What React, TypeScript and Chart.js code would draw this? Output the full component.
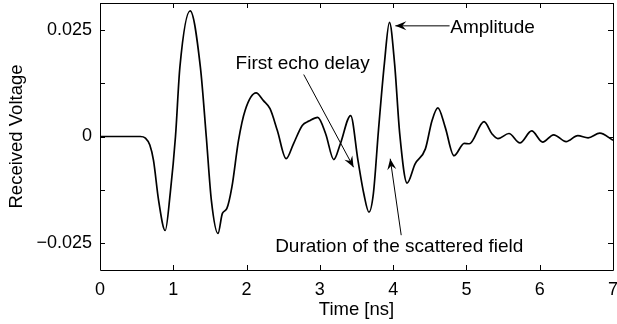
import React, { useEffect, useRef } from "react";
import { Chart, registerables } from "chart.js";

Chart.register(...registerables);

// ---- data ----
const timeNs = [
  0, 0.3, 0.55, 0.62, 0.68, 0.73, 0.8, 0.89, 0.96, 1.03, 1.09, 1.23, 1.37, 1.45,
  1.52, 1.61, 1.67, 1.73, 1.8, 1.89, 1.98, 2.13, 2.23, 2.32, 2.42, 2.54, 2.64,
  2.76, 2.85, 2.97, 3.08, 3.19, 3.28, 3.42, 3.52, 3.6, 3.67, 3.73, 3.8, 3.88,
  3.95, 4.02, 4.09, 4.19, 4.3, 4.44, 4.53, 4.61, 4.71, 4.83, 4.97, 5.04, 5.24,
  5.35, 5.43, 5.58, 5.73, 5.89, 6.04, 6.19, 6.36, 6.52, 6.66, 6.82, 7.0,
];
const voltage = [
  0, 0, 0, -0.0004, -0.002, -0.0056, -0.015, -0.022, -0.013, 0.0, 0.0162,
  0.0294, 0.0162, 0.0, -0.015, -0.0227, -0.018, -0.0169, -0.0118, -0.0009,
  0.0061, 0.0102, 0.0084, 0.0065, 0.0014, -0.0052, -0.0017, 0.0026, 0.0036,
  0.0045, 0.0006, -0.0054, -0.0017, 0.0049, -0.0056, -0.0134, -0.0177, -0.0134,
  0.0015, 0.017, 0.0267, 0.017, 0.0006, -0.0109, -0.0064, -0.0029, 0.0037,
  0.0067, 0.0022, -0.0045, -0.0016, -0.0017, 0.0035, 0.0006, -0.0005, 0.0007,
  -0.0015, 0.0013, -0.0013, 0.0004, -0.0012, 0.0002, -0.0003, 0.0008, -0.0009,
];

const xTickValues = [0, 1, 2, 3, 4, 5, 6, 7];
const xTickLabels = ["0", "1", "2", "3", "4", "5", "6", "7"];
const yTickValues = [-0.025, -0.0125, 0, 0.0125, 0.025];
const yTickLabels = ["\u22120.025", "", "0", "", "0.025"];

const xTitle = "Time [ns]";
const yTitle = "Received Voltage";

// annotations (data coordinates)
const annoTexts = ["Amplitude", "First echo delay", "Duration of the scattered field"];
const annoTextX = [4.78, 1.85, 2.39];
const annoTextY = [0.0254, 0.0171, -0.0257];
const arrowFromX = [4.77, 2.78, 4.11];
const arrowFromY = [0.0259, 0.0145, -0.0231];
const arrowToX = [4.03, 3.46, 3.96];
const arrowToY = [0.0259, -0.0072, -0.0052];

const FONT = "'Liberation Sans', Arial, Helvetica, sans-serif";
const FSIZE = 18;
const TITLE_SIZE = 18.5;
const ANNO_SIZE = 19;

const framePlugin = {
  id: "frame",
  afterDraw(chart: any) {
    const { ctx, chartArea } = chart;
    const { left, right, top, bottom } = chartArea;
    const xs = chart.scales.x;
    const ys = chart.scales.y;
    ctx.save();
    ctx.strokeStyle = "#000";
    ctx.lineWidth = 1;
    ctx.beginPath();
    ctx.rect(Math.round(left) + 0.5, Math.round(top) + 0.5, Math.round(right - left), Math.round(bottom - top));
    const tl = 5;
    xTickValues.forEach((v) => {
      const px = Math.round(xs.getPixelForValue(v)) + 0.5;
      ctx.moveTo(px, bottom);
      ctx.lineTo(px, bottom - tl);
      ctx.moveTo(px, top);
      ctx.lineTo(px, top + tl);
    });
    yTickValues.forEach((v) => {
      const py = Math.round(ys.getPixelForValue(v)) + 0.5;
      ctx.moveTo(left, py);
      ctx.lineTo(left + tl, py);
      ctx.moveTo(right, py);
      ctx.lineTo(right - tl, py);
    });
    ctx.stroke();
    ctx.restore();
  },
};

function drawArrow(ctx: any, x1: number, y1: number, x2: number, y2: number) {
  ctx.beginPath();
  ctx.moveTo(x1, y1);
  ctx.lineTo(x2, y2);
  ctx.stroke();
  const ang = Math.atan2(y2 - y1, x2 - x1);
  const len = 11;
  const half = 4.5;
  const notch = 7;
  const bx = x2 - len * Math.cos(ang);
  const by = y2 - len * Math.sin(ang);
  const nx = x2 - notch * Math.cos(ang);
  const ny = y2 - notch * Math.sin(ang);
  const px = -Math.sin(ang);
  const py = Math.cos(ang);
  ctx.beginPath();
  ctx.moveTo(x2, y2);
  ctx.lineTo(bx + px * half, by + py * half);
  ctx.lineTo(nx, ny);
  ctx.lineTo(bx - px * half, by - py * half);
  ctx.closePath();
  ctx.fill();
}

const annotationPlugin = {
  id: "annotations",
  afterDraw(chart: any) {
    const { ctx } = chart;
    const xs = chart.scales.x;
    const ys = chart.scales.y;
    ctx.save();
    ctx.strokeStyle = "#000";
    ctx.fillStyle = "#000";
    ctx.lineWidth = 1;
    for (let i = 0; i < annoTexts.length; i++) {
      drawArrow(
        ctx,
        xs.getPixelForValue(arrowFromX[i]),
        ys.getPixelForValue(arrowFromY[i]),
        xs.getPixelForValue(arrowToX[i]),
        ys.getPixelForValue(arrowToY[i])
      );
    }
    ctx.font = `${ANNO_SIZE}px ${FONT}`;
    ctx.textAlign = "left";
    ctx.textBaseline = "middle";
    for (let i = 0; i < annoTexts.length; i++) {
      ctx.fillText(annoTexts[i], xs.getPixelForValue(annoTextX[i]), ys.getPixelForValue(annoTextY[i]));
    }
    ctx.restore();
  },
};

export default function App() {
  const ref = useRef<HTMLCanvasElement | null>(null);
  useEffect(() => {
    if (!ref.current) return;
    const chart = new Chart(ref.current, {
      type: "line",
      data: {
        datasets: [
          {
            data: timeNs.map((t, i) => ({ x: t, y: voltage[i] })),
            borderColor: "#000",
            borderWidth: 1.7,
            pointRadius: 0,
            fill: false,
            cubicInterpolationMode: "monotone",
          },
        ],
      },
      options: {
        animation: false,
        responsive: false,
        maintainAspectRatio: false,
        layout: { padding: { top: 3, right: 4, left: 0, bottom: 0 } },
        plugins: { legend: { display: false }, tooltip: { enabled: false } },
        scales: {
          x: {
            type: "linear",
            min: 0,
            max: 7,
            afterBuildTicks: (s: any) => {
              s.ticks = xTickValues.map((v) => ({ value: v }));
            },
            afterFit: (s: any) => {
              s.height = 54;
              s.paddingLeft = 0;
              s.paddingRight = 0;
            },
            grid: { display: false, drawTicks: false },
            border: { display: false },
            ticks: {
              color: "#000",
              font: { family: FONT, size: FSIZE },
              padding: 9,
              autoSkip: false,
              maxRotation: 0,
              callback: (v: any) => {
                const i = xTickValues.indexOf(Number(v));
                return i >= 0 ? xTickLabels[i] : "";
              },
            },
            title: {
              display: true,
              text: xTitle,
              color: "#000",
              font: { family: FONT, size: TITLE_SIZE, lineHeight: 1 },
              padding: { top: 0, bottom: 5 },
            },
          },
          y: {
            type: "linear",
            min: -0.03125,
            max: 0.03125,
            afterBuildTicks: (s: any) => {
              s.ticks = yTickValues.map((v) => ({ value: v }));
            },
            afterFit: (s: any) => {
              s.width = 100;
              s.paddingTop = 0;
              s.paddingBottom = 0;
            },
            grid: { display: false, drawTicks: false },
            border: { display: false },
            ticks: {
              color: "#000",
              font: { family: FONT, size: FSIZE },
              padding: 8,
              autoSkip: false,
              callback: (v: any) => {
                const i = yTickValues.findIndex((t) => Math.abs(t - Number(v)) < 1e-9);
                return i >= 0 ? yTickLabels[i] : "";
              },
            },
            title: {
              display: true,
              text: yTitle,
              color: "#000",
              font: { family: FONT, size: TITLE_SIZE, lineHeight: 1 },
              padding: { top: 8, bottom: 0 },
            },
          },
        },
      },
      plugins: [framePlugin, annotationPlugin],
    } as any);
    return () => chart.destroy();
  }, []);
  return (
    <div style={{ position: "fixed", left: 0, top: 0, width: 617, height: 324, background: "#fff" }}>
      <canvas ref={ref} width={617} height={324} style={{ width: 617, height: 324, display: "block" }} />
    </div>
  );
}
